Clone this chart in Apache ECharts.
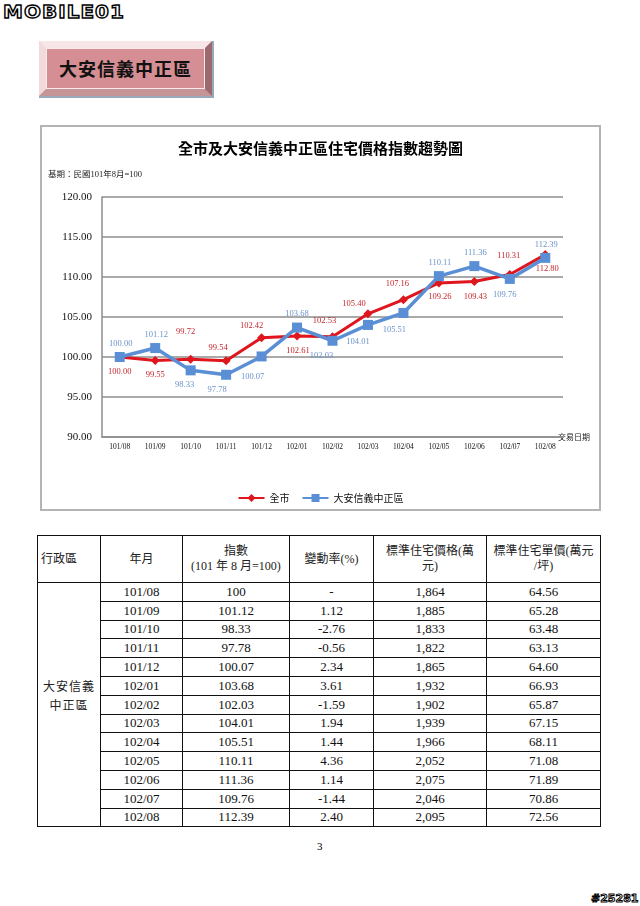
<!DOCTYPE html>
<html>
<head>
<meta charset="utf-8">
<script src="https://cdn.jsdelivr.net/npm/echarts@6/dist/echarts.min.js"></script>
<style>
    body {
        margin: 0;
        background: #fff;
        width: 640px;
        height: 906px;
        position: relative;
        overflow: hidden;
        font-family: "Liberation Serif", "Noto Sans CJK TC", serif;
    }
    #logo {
        position: absolute;
        left: 3px;
        top: 1px;
        font: bold 19px "DejaVu Sans", sans-serif;
        letter-spacing: 1px;
        color: #fff;
        -webkit-text-stroke: 1.4px #000;
        transform: scale(1.05, 0.95);
        transform-origin: left top;
    }
    #banner {
        position: absolute;
        left: 39px;
        top: 41px;
        width: 159px;
        height: 41px;
        border-style: solid;
        border-width: 7px;
        border-color: #f6e6e7 #9c6a6e #c49497 #f1dadb;
        background: #d58e93;
        box-shadow: inset 0 0 0 1px #f7e9ea, 1px 1px 0 1px #9aa8bb;
        font: bold 18px "Noto Sans CJK TC", sans-serif;
        letter-spacing: 1px;
        line-height: 41px;
        text-align: center;
        color: #111;
    }
    #chart {
        position: absolute;
        left: 40px;
        top: 125px;
        width: 557px;
        height: 382px;
        border: 2px solid #b4b4b4;
    }
    #tbl {
        position: absolute;
        left: 37px;
        top: 535px;
        width: 563px;
        border-collapse: collapse;
        table-layout: fixed;
        border: 1.5px solid #000;
    }
    #tbl td {
        border: 1px solid #111;
        padding: 0;
        text-align: center;
        font-size: 13px;
        height: 17.8px;
        color: #111;
    }
    #tbl tr.head td {
        height: 46px;
        font: 12px/15px "Liberation Serif", "Noto Sans CJK TC", serif;
        color: #222;
    }
    #tbl td.district {
        font: 12px/19px "Noto Sans CJK TC", sans-serif;
        letter-spacing: 1px;
        padding-bottom: 20px;
        color: #222;
    }
    #page {
        position: absolute;
        left: 317px;
        top: 840px;
        font-size: 11px;
    }
    #tag {
        position: absolute;
        left: 591px;
        top: 892px;
        font: bold 11px "DejaVu Sans", sans-serif;
        color: #fff;
        -webkit-text-stroke: 1px #000;
    }
</style>
</head>
<body>
<div id="logo">MOBILE01</div>
<div id="banner">大安信義中正區</div>
<div id="chart"></div>
<table id="tbl"></table>
<div id="page">3</div>
<div id="tag">#25281</div>

<script>
    // values
    const months = ['101/08', '101/09', '101/10', '101/11', '101/12', '102/01', '102/02',
        '102/03', '102/04', '102/05', '102/06', '102/07', '102/08'];
    const cityIndex = [100.00, 99.55, 99.72, 99.54, 102.42, 102.61, 102.53,
        105.40, 107.16, 109.26, 109.43, 110.31, 112.80];
    const districtIndex = [100.00, 101.12, 98.33, 97.78, 100.07, 103.68, 102.03,
        104.01, 105.51, 110.11, 111.36, 109.76, 112.39];
    const changeRates = [null, 1.12, -2.76, -0.56, 2.34, 3.61, -1.59,
        1.94, 1.44, 4.36, 1.14, -1.44, 2.40];
    const stdPrices = [1864, 1885, 1833, 1822, 1865, 1932, 1902,
        1939, 1966, 2052, 2075, 2046, 2095];
    const unitPrices = [64.56, 65.28, 63.48, 63.13, 64.60, 66.93, 65.87,
        67.15, 68.11, 71.08, 71.89, 70.86, 72.56];
    const yTicks = { min: 90, max: 120, step: 5 };

    // where each data label sits relative to its point (px)
    const cityLabelOffset = [[0, 15], [0, 14], [-5, -27], [-8, -13], [-10, -12], [1, 15], [-8, -16],
        [-14, -10], [-6, -16], [1, 14], [1, 15], [-1, -19], [2, 14]];
    const districtLabelOffset = [[1, -13], [1, -13], [-6, 14], [-9, 15], [-9, 20], [0, -14], [-11, 15],
        [-10, 17], [-9, 17], [1, -13], [1, -13], [-5, 16], [1, -13]];

    const RED = '#df161d';
    const BLUE = '#5a8ed5';
    const GRID = '#8c8c8c';
    const serif = '"Liberation Serif", serif';
    const cjk = '"Noto Sans CJK TC", sans-serif';

    const withLabels = (values, offsets) =>
        values.map((v, i) => ({ value: v, label: { offset: offsets[i] } }));

    const myChart = echarts.init(document.getElementById('chart'));

    const option = {
        animation: false,
        title: {
            text: '全市及大安信義中正區住宅價格指數趨勢圖',
            left: 'center',
            top: 9,
            textStyle: { fontFamily: cjk, fontSize: 15, fontWeight: 'bold', color: '#000' }
        },
        graphic: [
            {
                type: 'text', left: 6, top: 44,
                style: { text: '基期：民國101年8月=100', font: '8.5px "Liberation Serif", "Noto Sans CJK TC", serif', fill: '#222' }
            },
            {
                type: 'text', left: 516, top: 306,
                style: { text: '交易日期', font: '8px ' + cjk, fill: '#222' }
            }
        ],
        legend: {
            top: 361,
            left: 'center',
            itemWidth: 26,
            itemHeight: 10,
            itemGap: 12,
            textStyle: { fontFamily: cjk, fontSize: 10, color: '#111' }
        },
        grid: { left: 60, top: 70, width: 461, height: 240 },
        xAxis: {
            type: 'category',
            data: months,
            boundaryGap: true,
            axisLine: { lineStyle: { color: GRID, width: 1.5 } },
            axisTick: { show: false },
            axisLabel: { interval: 0, margin: 6, fontSize: 7.5, fontFamily: serif, color: '#111' }
        },
        yAxis: {
            type: 'value',
            min: yTicks.min,
            max: yTicks.max,
            interval: yTicks.step,
            axisLine: { show: true, lineStyle: { color: GRID, width: 1.5 } },
            axisTick: { show: false },
            splitLine: { lineStyle: { color: GRID, width: 1.5 } },
            axisLabel: {
                margin: 10, fontSize: 11, fontFamily: serif, color: '#111',
                formatter: v => v.toFixed(2)
            }
        },
        series: [
            {
                name: '全市',
                type: 'line',
                data: withLabels(cityIndex, cityLabelOffset),
                symbol: 'diamond',
                symbolSize: 9,
                lineStyle: { color: RED, width: 3 },
                itemStyle: { color: RED },
                label: {
                    show: true, position: 'inside',
                    fontSize: 8.5, fontFamily: serif, color: '#c3272d',
                    formatter: p => p.value.toFixed(2)
                }
            },
            {
                name: '大安信義中正區',
                type: 'line',
                data: withLabels(districtIndex, districtLabelOffset),
                symbol: 'rect',
                symbolSize: 10,
                lineStyle: { color: BLUE, width: 3.5 },
                itemStyle: { color: BLUE },
                label: {
                    show: true, position: 'inside',
                    fontSize: 8.5, fontFamily: serif, color: '#6a91c9',
                    formatter: p => p.value.toFixed(2)
                }
            }
        ]
    };

    myChart.setOption(option);

    // table under the chart
    const colWidths = [63, 82, 107, 84, 113, 114];
    const tbl = document.getElementById('tbl');
    let html = '<colgroup>' + colWidths.map(w => `<col style="width:${w}px">`).join('') + '</colgroup>';
    html += '<tr class="head">' +
        '<td style="text-align:left;padding-left:3px">行政區</td>' +
        '<td>年月</td>' +
        '<td>指數<br>(101 年 8 月=100)</td>' +
        '<td>變動率(%)</td>' +
        '<td>標準住宅價格(萬<br>元)</td>' +
        '<td>標準住宅單價(萬元<br>/坪)</td></tr>';
    months.forEach((m, i) => {
        html += '<tr>';
        if (i === 0) {
            html += `<td class="district" rowspan="${months.length}">大安信義<br>中正區</td>`;
        }
        const idx = districtIndex[i] === 100 ? '100' : districtIndex[i].toFixed(2);
        const rate = changeRates[i] === null ? '-' : changeRates[i].toFixed(2);
        html += `<td>${m}</td><td>${idx}</td><td>${rate}</td>` +
            `<td>${stdPrices[i].toLocaleString('en-US')}</td><td>${unitPrices[i].toFixed(2)}</td></tr>`;
    });
    tbl.innerHTML = html;
</script>
</body>
</html>
